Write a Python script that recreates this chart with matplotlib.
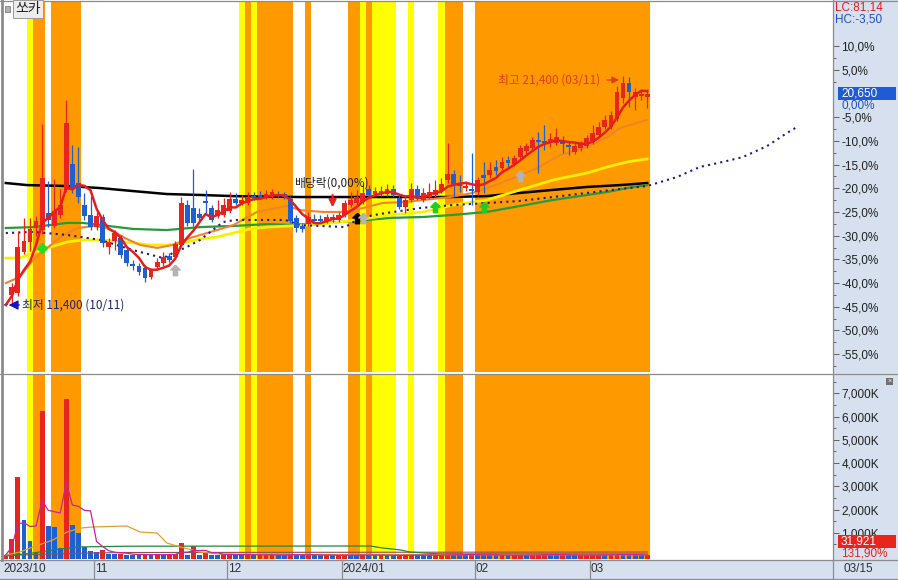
import matplotlib
matplotlib.use("Agg")
import matplotlib.pyplot as plt
import matplotlib.transforms as mtransforms
import numpy as np
import pandas as pd
from matplotlib.lines import Line2D
from matplotlib.patches import Rectangle
from matplotlib.path import Path

KR = ["Noto Sans CJK KR", "DejaVu Sans"]
NUM = ["Liberation Sans Narrow", "Liberation Sans", "DejaVu Sans"]
plt.rcParams["font.family"] = NUM

W, H = 898, 580

# ---------------- data ----------------
stock_name = "쏘카"
month_start = [0, 15, 37, 56, 78, 97]
month_labels = ["2023/10", "11", "12", "2024/01", "02", "03"]
last_date = "03/15"
base_price = 20650
last_volume = "31,921"

opens = [11480, 11870, 11960, 13750, 14180, 14790, 14700, 15440, 14880, 15360,
         16450, 17580, 16750, 15790, 15360, 14830, 15270, 13960, 14220, 14350,
         13830, 13220, 13130, 13050, 12650, 13090, 13260, 13570, 13520, 14050,
         15790, 15660, 15400, 15970, 15660, 15310, 15360, 15530, 16050, 15880,
         15880, 16180, 16230, 16140, 16140, 16270, 16270, 16050, 15220, 14880,
         14960, 15180, 15180, 15090, 15270, 15140, 15360, 15790, 15880, 15920,
         16490, 16270, 16270, 16270, 16490, 16090, 15700, 16010, 16490, 16010,
         16140, 16230, 16400, 16880, 17140, 16750, 16530, 16490, 16360, 17100,
         17100, 17450, 17400, 17750, 17580, 17880, 18140, 18270, 18620, 18580,
         18490, 18490, 18620, 18400, 18100, 18270, 18360, 18530, 18840, 19190,
         19190, 19540, 20450, 21100, 20500, 20540, 20500]
highs = [11570, 12390, 14660, 15230, 15230, 15310, 19320, 16840, 16920, 16490,
         20370, 18410, 18320, 16310, 16180, 15490, 15400, 14350, 14700, 14480,
         14000, 13390, 13260, 13180, 13050, 13480, 13740, 13700, 14220, 16140,
         16010, 17360, 15660, 16450, 15790, 16010, 16090, 16360, 16310, 16230,
         16360, 16360, 16400, 16450, 16490, 16400, 16360, 16180, 15360, 15010,
         15490, 15400, 15360, 15400, 15400, 15490, 16010, 16360, 16450, 16750,
         16660, 16570, 16620, 16700, 16660, 16230, 16180, 16750, 16660, 16530,
         16750, 16880, 16970, 18490, 17310, 17100, 16840, 18060, 17010, 17660,
         17660, 17750, 17880, 17930, 17970, 18400, 18490, 18750, 18970, 19280,
         18930, 19150, 18800, 18580, 18490, 18580, 18840, 19280, 19410, 19710,
         19890, 20980, 21400, 21370, 20890, 20760, 20760]
lows = [11400, 11520, 11830, 13660, 13790, 14440, 14530, 14830, 14790, 15220,
        16360, 16310, 15880, 15140, 14700, 14700, 13960, 13660, 13830, 13480,
        13130, 12960, 12740, 12440, 12570, 12960, 13130, 13310, 13440, 13960,
        14880, 14880, 15050, 15440, 15050, 15220, 15270, 15440, 15790, 15790,
        15790, 16010, 16050, 16050, 16050, 16090, 16050, 15010, 14620, 14620,
        14880, 15010, 15010, 15010, 15050, 15050, 15270, 15700, 15790, 15830,
        16140, 16180, 16180, 16180, 16140, 15620, 15440, 15920, 16010, 15920,
        16050, 16140, 16310, 16750, 16140, 16360, 16400, 15790, 16230, 16310,
        16970, 17100, 17320, 17400, 17490, 17750, 18010, 18140, 17180, 18190,
        18320, 18400, 18060, 17970, 18010, 18140, 18270, 18450, 18750, 19100,
        19100, 19450, 20240, 20060, 19930, 20360, 20020]
closes = [11440, 12220, 13960, 14220, 14750, 15100, 16970, 15140, 15530, 15790,
          19360, 16530, 16140, 15310, 14830, 15310, 14140, 14180, 14570, 13610,
          13260, 13130, 12870, 12610, 12960, 13310, 13520, 13390, 14090, 15880,
          15010, 15010, 15220, 15880, 15140, 15570, 15790, 16050, 15880, 16010,
          16140, 16140, 16140, 16270, 16360, 16180, 16140, 15090, 14790, 14750,
          15270, 15090, 15090, 15270, 15180, 15360, 15880, 16010, 16140, 16310,
          16230, 16400, 16400, 16490, 16230, 15700, 16010, 16490, 16090, 16310,
          16360, 16450, 16700, 17140, 16700, 16620, 16620, 16400, 16880, 16970,
          17320, 17270, 17660, 17620, 17840, 18270, 18360, 18620, 18530, 18490,
          18670, 18750, 18450, 18320, 18360, 18450, 18710, 18930, 19190, 19490,
          19710, 20710, 21100, 20710, 20710, 20630, 20650]
# volume, thousand shares
volumes = [50, 720, 3410, 1550, 630, 120, 6240, 1290, 1260, 330,
           6760, 1330, 1000, 400, 220, 160, 260, 90, 85, 100,
           60, 50, 45, 60, 50, 70, 50, 60, 90, 550,
           60, 430, 45, 120, 60, 55, 65, 70, 50, 45,
           55, 40, 45, 50, 55, 40, 35, 70, 55, 40,
           60, 35, 30, 35, 30, 35, 50, 45, 40, 50,
           35, 30, 35, 30, 25, 30, 35, 60, 40, 35,
           30, 35, 40, 90, 60, 45, 40, 80, 50, 45,
           40, 35, 40, 30, 35, 45, 40, 50, 60, 70,
           55, 45, 60, 40, 35, 40, 45, 50, 55, 45,
           60, 80, 65, 50, 40, 24, 32]

# moving averages as (day, price) knots
ma20_day = [0, 2.3, 4.5, 7.0, 9.3, 11.9, 14.7, 17.2, 19.7, 22.2, 25.0, 27.6, 30.4,
            34.9, 37.6, 41.5, 46.5, 48.6, 52.4, 55.7, 59.0, 62.3, 65.7, 69.0, 73.4,
            77.2, 79.5, 82.2, 85.0, 87.8, 91.6, 96.1, 99.4, 101.5, 104.3, 106]
ma20_val = [12390, 12660, 13400, 13960, 14440, 14790, 14880, 14750, 14350, 14050,
            13920, 14050, 14350, 14700, 14920, 15490, 15750, 15570, 15490, 15490,
            15660, 15880, 15920, 16010, 16140, 16320, 16530, 16790, 17100, 17400,
            17970, 18320, 18750, 19150, 19370, 19500]
ma60_day = [0, 2.3, 4.5, 7.3, 10.1, 12.8, 15.6, 18.4, 21.0, 23.8, 26.6, 29.3, 32.1,
            34.9, 37.6, 40.4, 43.2, 47.0, 52.4, 58.0, 63.5, 69.0, 73.9, 79.5, 85.0,
            90.4, 96.1, 99.4, 102.7, 106]
ma60_val = [13480, 13480, 13700, 13960, 14180, 14270, 14270, 14220, 14140, 14050,
            14050, 14140, 14310, 14400, 14570, 14750, 14830, 14880, 14960, 15140,
            15360, 15490, 15790, 16010, 16450, 16880, 17190, 17450, 17670, 17800]
ma120_day = [0, 4.5, 10.1, 12.8, 15.6, 21.0, 26.6, 32.1, 37.6, 43.2, 47.0, 52.4,
             58.0, 63.5, 69.0, 73.9, 79.5, 85.0, 90.4, 96.1, 99.4, 102.7, 106]
ma120_val = [14790, 14830, 15010, 15010, 14920, 14750, 14700, 14830, 14880, 14960,
             14920, 15010, 15100, 15230, 15270, 15360, 15490, 15750, 16010, 16230,
             16360, 16530, 16660]
ma240_day = [0, 3.5, 10.1, 15.6, 21.0, 26.6, 32.1, 37.6, 48.6, 63.5, 73.4, 79.5,
             85.0, 90.4, 96.1, 101.5, 106]
ma240_val = [16750, 16660, 16620, 16530, 16400, 16270, 16230, 16180, 16140, 16140,
             16140, 16180, 16320, 16450, 16580, 16660, 16750]
lead_day = [0, 4.5, 10.1, 15.6, 21.0, 26.0, 27.6, 29.9, 32.1, 35.9, 37.9, 46.2,
            48.6, 56.1, 58.5, 61.8, 68.5, 73.9, 79.5, 85.0, 90.4, 96.1, 101.5, 106,
            110.9, 114.7, 118.5, 121.8, 125.8, 129.1, 131.0]
lead_val = [14570, 14620, 14490, 14270, 13830, 13480, 13700, 13960, 14270, 15050,
            15140, 15140, 14920, 14830, 15230, 15400, 15660, 15790, 15880, 15970,
            16140, 16320, 16490, 16620, 17010, 17450, 17670, 17880, 18360, 18930,
            19230]

# volume averages (thousand shares)
vma20_day = [0, 2.3, 4.5, 7.8, 10.1, 12.3, 14.4, 20.0, 22.2, 25.0, 26.6, 28.8,
             32.1, 35.4, 50, 106]
vma20_val = [40, 170, 390, 690, 1030, 1200, 1250, 1290, 1030, 990, 560, 390,
             170, 80, 60, 50]
vma60_day = [0, 4.5, 10.1, 12.3, 20, 60.2, 62.4, 65.2, 66.8, 69.0, 71.8, 106]
vma60_val = [0, 130, 340, 390, 420, 430, 340, 260, 170, 130, 90, 80]
vma120_day = [0, 12, 20, 60, 106]
vma120_val = [20, 120, 150, 160, 170]

yellow_days = [4, 39, 41, 59, 61, 62, 63, 64, 67, 72]
orange_days = [5, 6, 8, 9, 10, 11, 12, 40, 42, 43, 44, 45, 46, 47, 50, 57, 58,
               60, 73, 74, 75] + list(range(78, 107))

# signal marks: (day, price)
green_diamond = (6, 13920)
up_arrows = [(28, 12960, "#b4b4b4"), (58, 15230, "#000000"), (59, 15230, "#b4b4b4"),
             (71, 15700, "#22cc22"), (79, 15720, "#22cc22"), (85, 17060, "#b4b4b4")]
pct_ticks = [10, 5, -5, -10, -15, -20, -25, -30, -35, -40, -45, -50, -55]
vol_ticks = [1000, 2000, 3000, 4000, 5000, 6000, 7000]

RED = "#e8241c"
BLUE = "#1e5fd2"
ORANGE = "#ff9900"
YELLOW = "#ffff00"
PANEL = "#d6e0ee"
GRID = "#8c8c8c"


def fx(px):
    return px / W


def fy(py):
    return 1 - py / H


fig = plt.figure(figsize=(W / 100, H / 100), dpi=100, facecolor=PANEL)
fig.add_artist(Rectangle((0, fy(560)), fx(833), 1 - fy(560), transform=fig.transFigure,
                         facecolor="white", edgecolor="none", zorder=-1))

ax = fig.add_axes([fx(4), fy(372), fx(833) - fx(4), fy(2) - fy(372)])
axv = fig.add_axes([fx(4), fy(559), fx(833) - fx(4), fy(375) - fy(559)])

x = np.arange(len(closes))
o = np.array(opens, dtype=float)
c = np.array(closes, dtype=float)
hi = np.array(highs, dtype=float)
lo = np.array(lows, dtype=float)
vol = np.array(volumes, dtype=float)

# background bands
for a in (ax, axv):
    for d in yellow_days:
        a.axvspan(d - 0.5, d + 0.5, color=YELLOW, lw=0, zorder=0.5, antialiased=False)
    for d in orange_days:
        a.axvspan(d - 0.5, d + 0.5, color=ORANGE, lw=0, zorder=0.5, antialiased=False)

# moving averages
ax.plot(ma240_day, ma240_val, color="black", lw=1.8, zorder=2)
ax.plot(ma120_day, ma120_val, color="#279a3c", lw=1.6, zorder=2)
ax.plot(ma60_day, ma60_val, color="#f8f000", lw=2.0, zorder=2)
ax.plot(ma20_day, ma20_val, color="#f5822a", lw=1.5, zorder=2)
ax.plot(lead_day, lead_val, color="#1c1c8c", lw=1.5, ls=(0, (1, 2)),
        dash_capstyle="butt", zorder=2)

# candles
up = c >= o
col = np.where(up, RED, BLUE)
body_lo = np.minimum(o, c)
body_h = np.maximum(np.abs(c - o), 45)
ax.vlines(x, lo, hi, colors=col, lw=0.9, zorder=3)
ax.bar(x, body_h, bottom=body_lo, width=0.8, color=col, lw=0, zorder=4)

ma5 = pd.Series(c).rolling(5, min_periods=1).mean()
ax.plot(x, ma5, color="#e41e1e", lw=1.8, zorder=5)

# signal marks
arrow_path = Path([(0, 1), (0.9, 0.1), (0.4, 0.1), (0.4, -1), (-0.4, -1),
                   (-0.4, 0.1), (-0.9, 0.1), (0, 1)])
for d, p, cc in up_arrows:
    ax.plot(d, p, marker=arrow_path, ms=7.5, color=cc, ls="none", zorder=6)
ax.plot(*green_diamond, marker="D", ms=5, color="#22dd22", ls="none", zorder=6)

# annotations
ax.text(98.2, 21240, "최고 21,400 (03/11)", ha="right", va="center", color="#e03c1e",
        fontsize=8.5, family=KR, zorder=7)
ax.annotate("", xy=(101.8, 21240), xytext=(98.9, 21240),
            arrowprops=dict(arrowstyle="-|>", color="#e03c1e", lw=1, mutation_scale=10))
ax.text(2.7, 11435, "최저 11,400 (10/11)", ha="left", va="center", color="#23236e",
        fontsize=8.5, family=KR, zorder=7)
ax.annotate("", xy=(0.0, 11435), xytext=(2.7, 11435),
            arrowprops=dict(arrowstyle="-|>", color="#1414c8", lw=1, mutation_scale=14))
ax.text(53.8, 16750, "배당락(0,00%)", ha="center", va="center", color="#202020",
        fontsize=8.5, family=KR, zorder=7)
ax.annotate("", xy=(54, 15570), xytext=(54, 16360),
            arrowprops=dict(arrowstyle="-|>", color=RED, lw=1.5, mutation_scale=11), zorder=7)

# volume pane
vcol = [RED] + [RED if vol[i] > vol[i - 1] else BLUE for i in range(1, len(vol))]
vmin = -110
axv.bar(x, vol - vmin, bottom=vmin, width=0.8, color=vcol, lw=0, zorder=3)
vma5 = pd.Series(vol).rolling(5, min_periods=1).mean()
axv.plot(vma120_day, vma120_val, color="#8c5050", lw=0.8, zorder=4)
axv.plot(vma60_day, vma60_val, color="#208a3a", lw=0.9, zorder=4)
axv.plot(vma20_day, vma20_val, color="#e0a030", lw=0.9, zorder=4)
axv.plot(x, vma5, color="#c8229c", lw=0.9, zorder=4)

# axes styling
for a in (ax, axv):
    a.set_facecolor("white")
    a.set_xlim(-0.3, 136.7)
    a.set_xticks([])
    for s in a.spines.values():
        s.set_visible(False)
    a.yaxis.tick_right()
    a.tick_params(axis="y", which="major", direction="out", length=4, width=0.7,
                  color="#606060", labelsize=8.5, labelcolor="#202020", pad=2)
    a.tick_params(axis="y", which="minor", direction="out", length=2.2, width=0.7,
                  color="#606060")

ax.set_ylim(8516, 24637)
ax.set_yticks([base_price * (1 + p / 100) for p in pct_ticks])
ax.set_yticklabels([f"{p:.1f}%".replace(".", ",") for p in pct_ticks])
ax.set_yticks([base_price * (1 + (p - 2.5) / 100) for p in [12.5] + pct_ticks], minor=True)

axv.set_ylim(vmin - 20, 7790)
axv.set_yticks(vol_ticks)
axv.set_yticklabels([f"{v:,}K" for v in vol_ticks])
axv.set_yticks([v - 500 for v in vol_ticks] + [7500], minor=True)

# frame lines
for xs, ys, lw in [([fx(833), fx(833)], [0, 1], 0.9),
                   ([0, 1], [fy(373.5), fy(373.5)], 0.9),
                   ([0, 1], [fy(560), fy(560)], 0.9),
                   ([0, 1], [fy(579), fy(579)], 0.9),
                   ([fx(1.5), fx(1.5)], [fy(560), 1], 2.0),
                   ([0, 1], [fy(0.6), fy(0.6)], 0.9)]:
    fig.add_artist(Line2D(xs, ys, transform=fig.transFigure, color=GRID, lw=lw))

# date bar
trans = mtransforms.blended_transform_factory(axv.transData, fig.transFigure)
for d, lab in zip(month_start, month_labels):
    if d > 0:
        fig.add_artist(Line2D([d - 0.5, d - 0.5], [fy(560), fy(579)], transform=trans,
                              color=GRID, lw=0.9))
    fig.text(d - 0.5 + (0.2 if d > 0 else 0.05), fy(569.5), lab, transform=trans,
             ha="left", va="center", fontsize=8.5, color="#303030")
fig.text(fx(843), fy(569.5), last_date, ha="left", va="center", fontsize=8.5, color="#303030")

# title box
fig.add_artist(Rectangle((fx(5), fy(12)), fx(5), fy(6) - fy(12), transform=fig.transFigure,
                         facecolor="#b0b0b0", edgecolor="#808080", lw=0.6))
fig.text(fx(15), fy(9), stock_name, ha="left", va="center", fontsize=10, family=KR,
         color="#202020",
         bbox=dict(boxstyle="square,pad=0.15", fc="#ececec", ec="#9a9a9a", lw=0.7))

# right panel labels
fig.text(fx(835), fy(8), "LC:81,14", ha="left", va="center", fontsize=8.5, color="#e02020")
fig.text(fx(835), fy(20), "HC:-3,50", ha="left", va="center", fontsize=8.5, color="#2050c8")
fig.add_artist(Rectangle((fx(838), fy(100)), fx(58), fy(87) - fy(100),
                         transform=fig.transFigure, facecolor="#1f5bd6", edgecolor="none"))
fig.text(fx(841), fy(93.5), f"{base_price:,}", ha="left", va="center", fontsize=8.5,
         color="white")
fig.text(fx(841), fy(105), "0,00%", ha="left", va="center", fontsize=8.5, color="#1f4fc8")
fig.add_artist(Rectangle((fx(838), fy(548)), fx(58), fy(535) - fy(548),
                         transform=fig.transFigure, facecolor=RED, edgecolor="none"))
fig.text(fx(841), fy(541.5), last_volume, ha="left", va="center", fontsize=8.5, color="white")
fig.text(fx(841), fy(553.5), "131,90%", ha="left", va="center", fontsize=8.5, color=RED)
fig.add_artist(Rectangle((fx(886), fy(385)), fx(7), fy(378) - fy(385),
                         transform=fig.transFigure, facecolor="#707070", edgecolor="none"))
fig.text(fx(889.5), fy(381.5), "×", ha="center", va="center", fontsize=5, color="white")

fig.savefig("out.png", dpi=100, facecolor=PANEL)
